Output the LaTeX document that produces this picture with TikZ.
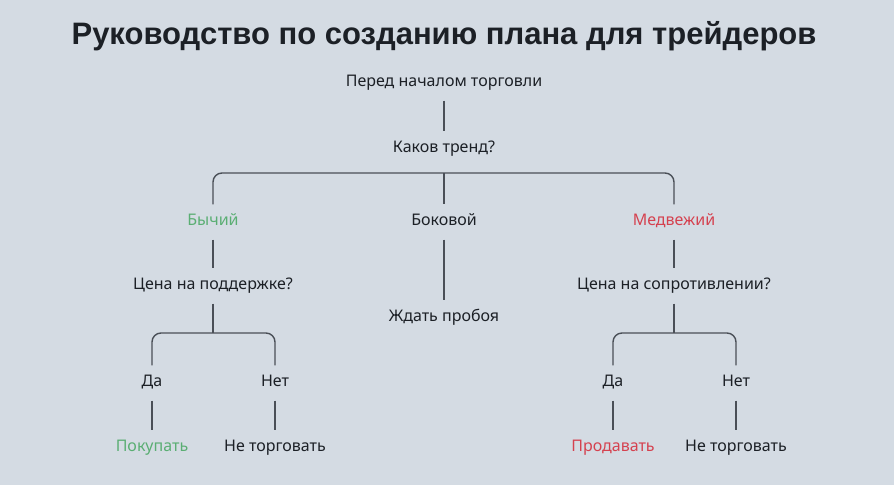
\documentclass[tikz,border=0pt]{standalone}
\usepackage{fontspec}
\setmainfont{Noto Sans}
\newfontfamily\guidetitlefont{Liberation Sans}
\usetikzlibrary{positioning,calc}
\definecolor{GuideBg}{HTML}{D4DBE3}
\definecolor{GuideText}{HTML}{1C2026}
\definecolor{GuideLine}{HTML}{4A4F57}
\definecolor{GuideGreen}{HTML}{5AAE73}
\definecolor{GuideRed}{HTML}{D5414F}
\tikzset{
    % Base step text
    stepnode/.style={
        text=GuideText,
        font=\fontsize{16}{19}\selectfont,
        inner xsep=4pt,
        inner ysep=10pt,
        text height=11pt,
        text depth=4pt
    },
    % Bullish outcome
    bullnode/.style={
        stepnode,
        text=GuideGreen
    },
    % Bearish outcome
    bearnode/.style={
        stepnode,
        text=GuideRed
    },
    % Heading
    titlenode/.style={
        text=GuideText,
        font=\guidetitlefont\bfseries\fontsize{31}{36}\selectfont
    },
    % Connector styles (straight lines only)
    myline/.style={
        draw=GuideLine,
        line width=1.4pt
    },
    forkline/.style={
        myline,
        rounded corners=9pt
    }
}
\begin{document}
\begin{tikzpicture}[x=1pt, y=-1pt]
    \fill[GuideBg] (0,0) rectangle (894,485);
    \useasboundingbox (0,0) rectangle (894,485);

    \node[titlenode] (title) at (444,36) {Руководство по созданию плана для трейдеров};

    \node[stepnode] (start) at (444,83) {Перед началом торговли};
    \node[stepnode] (trend) at (444,149) {Каков тренд?};

    \node[bullnode] (bull) at (213,222) {Бычий};
    \node[stepnode] (side) at (444,222) {Боковой};
    \node[bearnode] (bear) at (674,222) {Медвежий};

    \node[stepnode] (support) at (213,286) {Цена на поддержке?};
    \node[stepnode] (wait) at (444,318) {Ждать пробоя};
    \node[stepnode] (resist) at (674,286) {Цена на сопротивлении?};

    \node[stepnode] (yesL) at (152,383) {Да};
    \node[stepnode] (noL) at (275,383) {Нет};
    \node[bullnode] (buy) at (152,448) {Покупать};
    \node[stepnode] (skipL) at (275,448) {Не торговать};

    \node[stepnode] (yesR) at (613,383) {Да};
    \node[stepnode] (noR) at (736,383) {Нет};
    \node[bearnode] (sell) at (613,448) {Продавать};
    \node[stepnode] (skipR) at (736,448) {Не торговать};

    \coordinate (trendfork) at (444,173);
    \coordinate (supfork) at (213,333);
    \coordinate (resfork) at (674,333);

    \draw[myline] (start) -- (trend);
    \draw[forkline] (bull.north) |- (trendfork) -| (bear.north);
    \draw[myline] (trendfork) -- (side);

    \draw[myline] (bull) -- (support);
    \draw[myline] (side) -- (wait);
    \draw[myline] (bear) -- (resist);

    \draw[myline] (support) -- (supfork);
    \draw[forkline] (yesL.north) |- (supfork) -| (noL.north);
    \draw[myline] (yesL) -- (buy);
    \draw[myline] (noL) -- (skipL);

    \draw[myline] (resist) -- (resfork);
    \draw[forkline] (yesR.north) |- (resfork) -| (noR.north);
    \draw[myline] (yesR) -- (sell);
    \draw[myline] (noR) -- (skipR);
\end{tikzpicture}
\end{document}
